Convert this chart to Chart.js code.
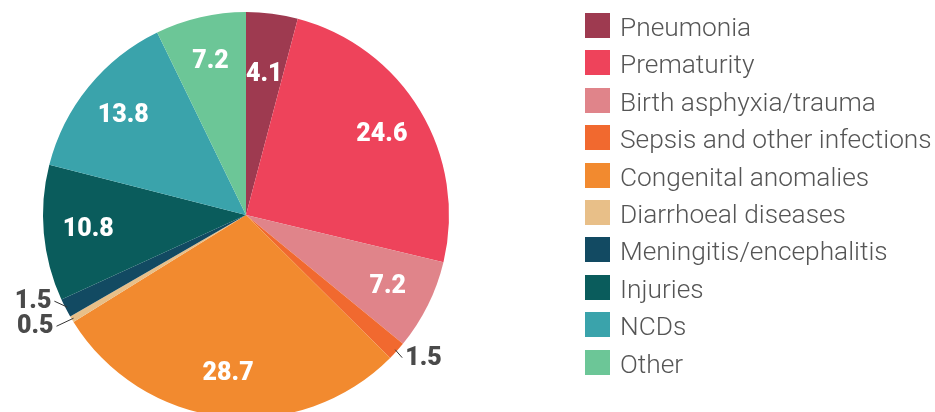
<!DOCTYPE html>
<html>
<head>
<meta charset="utf-8">
<script src="https://cdn.jsdelivr.net/npm/chart.js@4.4.0/dist/chart.umd.min.js"></script>
<style>
  html, body { margin: 0; padding: 0; background: #fff; overflow: hidden; }
  #wrap { position: relative; width: 935px; height: 430px; }
  #legend { position: absolute; left: 585px; top: 13px; margin: 0; padding: 0; list-style: none;
            font-family: Roboto, "Noto Sans", sans-serif; font-weight: 300; font-size: 26.3px; color: #555; }
  #legend li { height: 37.4px; display: flex; align-items: flex-start; }
  #legend span { display: inline-block; width: 25px; height: 25px; margin-right: 10px; flex: none; }
  #legend li div { line-height: 25px; margin-top: 2px; white-space: nowrap; }
</style>
</head>
<body>
<div id="wrap">
  <canvas id="pieChart" width="935" height="430"></canvas>
  <ul id="legend"></ul>
</div>
<script>
var causes = ['Pneumonia', 'Prematurity', 'Birth asphyxia/trauma', 'Sepsis and other infections',
              'Congenital anomalies', 'Diarrhoeal diseases', 'Meningitis/encephalitis',
              'Injuries', 'NCDs', 'Other'];
var shares = [4.1, 24.6, 7.2, 1.5, 28.7, 0.5, 1.5, 10.8, 13.8, 7.2];
var colours = ['#9e3a50', '#ee435b', '#e0848a', '#f1692f', '#f28a2f', '#e8bf88',
               '#124a62', '#0a5c5c', '#3aa3ab', '#6cc697'];

// small slices get their number outside, with a short leader line
var outside = {
    3: { dx: 7, dy: 8, align: 'left' },
    5: { dx: -17, dy: 8, align: 'right' },
    6: { dx: -13, dy: -6, align: 'right' }
};

var sliceLabels = {
    id: 'sliceLabels',
    afterDatasetsDraw: function (chart) {
        var ctx = chart.ctx;
        var arcs = chart.getDatasetMeta(0).data;
        ctx.save();
        ctx.font = '900 25px Roboto, "DejaVu Sans", sans-serif';
        ctx.textBaseline = 'middle';
        for (var i = 0; i < arcs.length; i++) {
            var a = arcs[i];
            var mid = (a.startAngle + a.endAngle) / 2;
            var cos = Math.cos(mid), sin = Math.sin(mid);
            var txt = String(shares[i]);
            if (outside[i]) {
                var o = outside[i];
                var ex = a.x + cos * (a.outerRadius - 2);
                var ey = a.y + sin * (a.outerRadius - 2);
                var lx = ex + o.dx, ly = ey + o.dy;
                ctx.strokeStyle = '#333';
                ctx.lineWidth = 1;
                ctx.beginPath();
                ctx.moveTo(ex, ey);
                ctx.lineTo(lx, ly);
                ctx.stroke();
                ctx.fillStyle = '#4a4a4a';
                ctx.textAlign = o.align;
                ctx.fillText(txt, o.align === 'left' ? lx + 3 : lx - 3, ly + 1);
            } else {
                var f = shares[i] < 5 ? 0.7 : 0.78;
                ctx.fillStyle = '#fff';
                ctx.textAlign = 'center';
                ctx.fillText(txt, a.x + cos * a.outerRadius * f, a.y + sin * a.outerRadius * f + 1);
            }
        }
        ctx.restore();
    }
};

var ctx = document.getElementById('pieChart').getContext('2d');
new Chart(ctx, {
    type: 'pie',
    data: {
        labels: causes,
        datasets: [{ data: shares, backgroundColor: colours, borderWidth: 0 }]
    },
    options: {
        responsive: false,
        animation: false,
        layout: { padding: { left: 43, right: 486, top: 12, bottom: 12 } },
        plugins: { legend: { display: false }, tooltip: { enabled: false } }
    },
    plugins: [sliceLabels]
});

var ul = document.getElementById('legend');
causes.forEach(function (c, i) {
    var li = document.createElement('li');
    li.innerHTML = '<span style="background:' + colours[i] + '"></span><div>' + c + '</div>';
    ul.appendChild(li);
});
</script>
</body>
</html>
